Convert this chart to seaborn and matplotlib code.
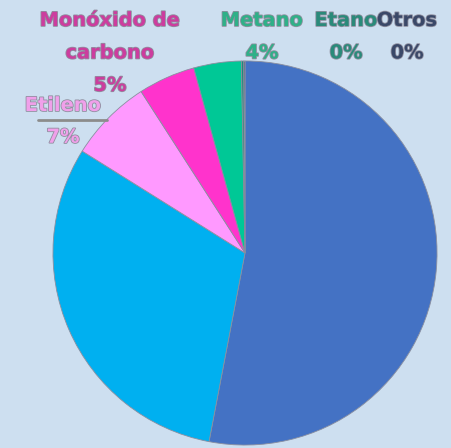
import matplotlib.pyplot as plt
import matplotlib.patheffects as pe
import seaborn as sns

# Slices, clockwise from 12 o'clock
gases = ["Hidrógeno", "Dióxido de carbono", "Etileno", "Monóxido de carbono", "Metano", "Etano", "Otros"]
shares = [53.0, 30.9, 7.0, 4.8, 4.0, 0.2, 0.1]
slice_colors = ["#4472c4", "#00b0f0", "#ff99ff", "#ff33cc", "#00c896", "#1f8a7a", "#3c4a6a"]
label_colors = {"Etileno": "#f0a0ea", "Monóxido de carbono": "#cc3d9e",
                "Metano": "#2fb088", "Etano": "#2a8a7a", "Otros": "#3a4868"}

BG = "#cddff0"

sns.set_theme(style="white")
plt.rcParams["font.family"] = ["DejaVu Sans"]

fig = plt.figure(figsize=(4.52, 4.48), dpi=100, facecolor=BG)
ax = fig.add_axes([52 / 452, 2 / 448, 386 / 452, 386 / 448])
ax.set_facecolor(BG)

ax.pie(shares, colors=slice_colors, startangle=90, counterclock=False,
       radius=1, wedgeprops=dict(edgecolor="#8a8fa0", linewidth=0.6))
ax.set_xlim(-1.005, 1.005)
ax.set_ylim(-1.005, 1.005)
ax.set_aspect("equal")
ax.axis("off")

outline = [pe.withStroke(linewidth=1.2, foreground="#9090a0")]


def pct(name):
    return f"{round(shares[gases.index(name)])}%"


def put(x, y, s, name, ls=1.9):
    fig.text(x / 452, 1 - y / 448, s, ha="center", va="top", fontsize=14,
             fontweight="bold", color=label_colors[name], linespacing=ls,
             path_effects=outline)


put(110, 11, "Monóxido de\ncarbono\n" + pct("Monóxido de carbono"), "Monóxido de carbono")
put(262, 11, "Metano\n" + pct("Metano"), "Metano")
put(346, 11, "Etano\n" + pct("Etano"), "Etano")
put(407, 11, "Otros\n" + pct("Otros"), "Otros")
put(63, 96, "Etileno\n" + pct("Etileno"), "Etileno", ls=1.85)

# leader line under "Etileno"
fig.add_artist(plt.Line2D([38 / 452, 107 / 452], [1 - 120 / 448, 1 - 120 / 448],
                          color="#8c8c8c", linewidth=2))

fig.savefig("out.png", dpi=100, facecolor=BG)
